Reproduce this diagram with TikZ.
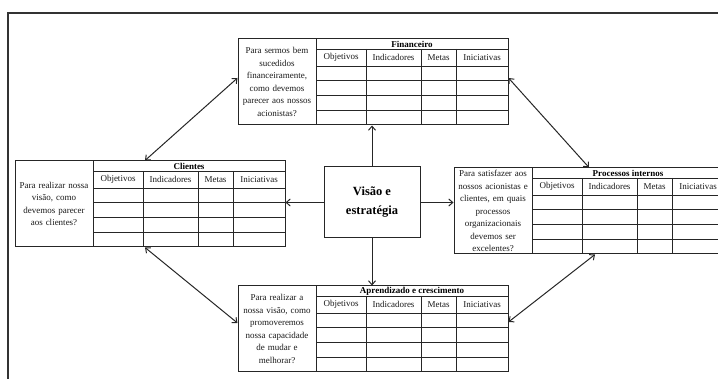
\documentclass[tikz,border=0pt]{standalone}
\usepackage{fontspec}
\setmainfont{Liberation Serif}
\usetikzlibrary{arrows.meta, positioning}

\begin{document}
\begin{tikzpicture}[x=1pt, y=-1pt,
  quadro/.style={draw=black!85, line width=1pt, minimum width=270pt, minimum height=86pt, inner sep=0pt},
  grade/.style={draw=black!85, line width=0.8pt},
  pergunta/.style={text width=76pt, align=center, inner sep=0pt, font=\fontsize{9}{12.5}\selectfont, text=black!90},
  titulo/.style={font=\fontsize{9}{10}\selectfont\bfseries, inner sep=0pt},
  cabecalho/.style={font=\fontsize{9}{10}\selectfont, inner sep=0pt, text=black!90},
  centro/.style={draw=black!85, line width=1pt, minimum width=96pt, minimum height=71pt, align=center, font=\fontsize{12.5}{19}\selectfont\bfseries},
  ligacao/.style={line width=1pt, draw=black!85, {Straight Barb[length=4pt, width=7pt]}-{Straight Barb[length=4pt, width=7pt]}},
  saida/.style={line width=1pt, draw=black!85, -{Straight Barb[length=4pt, width=7pt]}}
  ]

  \clip (0,0) rectangle (718,379);

  % Moldura
  \draw[line width=2.5pt, black!80] (8,379) -- (8,13) -- (718,13);

  % Perspectivas
  \foreach \nome/\px/\py/\titulo/\texto in {
    fin/238/39/Financeiro/{Para sermos bem\\sucedidos\\financeiramente,\\como devemos\\parecer aos nossos\\acionistas?},
    cli/15/161/Clientes/{Para realizar nossa\\visão, como\\devemos parecer\\aos clientes?},
    pro/454/168/Processos internos/{Para satisfazer aos\\nossos acionistas e\\clientes, em quais\\processos\\organizacionais\\devemos ser\\excelentes?},
    apr/238/286/Aprendizado e crescimento/{Para realizar a\\nossa visão, como\\promoveremos\\nossa capacidade\\de mudar e\\melhorar?}}{
    \begin{scope}[shift={(\px,\py)}]
      \node[quadro] (\nome) at (135,43) {};
      \draw[grade] (78,0) -- (78,86);
      \draw[grade] (78,10) -- (270,10) (78,27) -- (270,27);
      \foreach \r in {41.75,56.5,71.25} \draw[grade] (78,\r) -- (270,\r);
      \foreach \c in {128,183,218} \draw[grade] (\c,10) -- (\c,86);
      \node[pergunta] at (39,43) {\texto};
      \node[titulo] at (174,5) {\titulo};
      \node[cabecalho] at (103,18.5) {Objetivos};
      \node[cabecalho] at (155.5,18.5) {Indicadores};
      \node[cabecalho] at (200.5,18.5) {Metas};
      \node[cabecalho] at (244,18.5) {Iniciativas};
    \end{scope}
  }

  % Centro
  \node[centro] (visao) at (372,202.5) {Visão e\\estratégia};

  % Setas
  \draw[saida] (visao.north) -- (visao.north |- fin.south);
  \draw[saida] (visao.south) -- (visao.south |- apr.north);
  \draw[saida] (visao.west) -- (visao.west -| cli.east);
  \draw[saida] (visao.east) -- (visao.east -| pro.west);

  \draw[ligacao] ([yshift=4pt]fin.west) -- ([xshift=-5pt]cli.north);
  \draw[ligacao] ([yshift=4pt]fin.east) -- (pro.north);
  \draw[ligacao] ([xshift=-5pt]cli.south) -- ([yshift=6pt]apr.west);
  \draw[ligacao] ([xshift=6pt]pro.south) -- ([yshift=7pt]apr.east);

\end{tikzpicture}
\end{document}
